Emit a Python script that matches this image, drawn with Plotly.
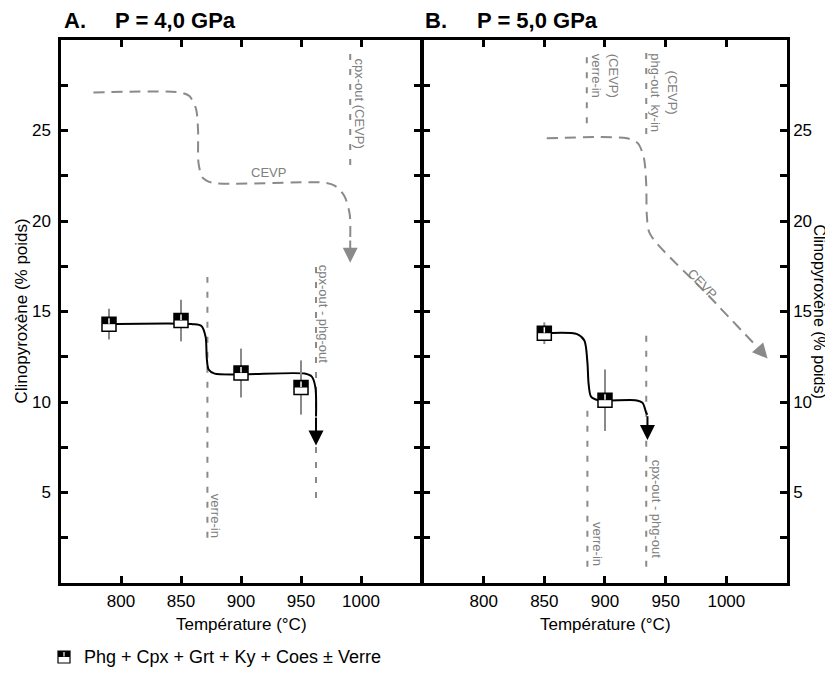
import plotly.graph_objects as go

# mesures (panneau A : 4,0 GPa ; panneau B : 5,0 GPa)
temp_a = [790, 850, 900, 950]
cpx_a = [14.3, 14.5, 11.6, 10.8]
err_a = [0.85, 1.15, 1.35, 1.5]
temp_b = [850, 900]
cpx_b = [13.8, 10.1]
err_b = [0.6, 1.7]

# tendances tracées à la main (noir) et trajets CEVP (gris)
trend_a_x = [790, 860, 867, 870.5, 871.5, 873, 878, 953, 959, 962, 962.5]
trend_a_y = [14.3, 14.3, 14.2, 13.6, 12.4, 11.8, 11.57, 11.57, 11.4, 10.8, 9.2]
trend_a_tip = [962.5, 7.6]
trend_b_x = [850, 877, 883, 885.5, 886.5, 888.5, 894.5, 925, 931, 934, 935]
trend_b_y = [13.8, 13.75, 13.4, 12.2, 11.0, 10.3, 10.1, 10.1, 9.95, 9.4, 9.3]
trend_b_tip = [935, 7.9]

cevp_a_x = [777, 849, 857, 862.5, 864.2, 864.6, 868, 876, 969, 978, 986, 990.5, 991]
cevp_a_y = [27.1, 27.1, 26.9, 26.2, 25.0, 23.2, 22.4, 22.12, 22.12, 21.95, 21.4, 20.4, 19.0]
cevp_a_tip = [991, 17.7]
cevp_b_x = [852, 918, 927, 932, 934, 934.5, 937, 985, 1026]
cevp_b_y = [24.57, 24.57, 24.3, 23.5, 22.0, 20.3, 19.3, 15.9, 13.0]
cevp_b_tip = [1034, 12.4]

# limites de phases (x, y bas, y haut)
bounds_a = [(872, 2.5, 16.9), (962.5, 4.7, 17.9), (991, 23.1, 29.4)]
bounds_b = [(885, 25.4, 29.4), (934, 24.8, 29.4), (885.5, 0.9, 9.8), (934, 0.9, 13.7)]

# étiquettes des limites (texte, x, y, angle, ancrage vertical)
labels_a = [("cpx-out (CEVP)", 999, 29.1, 90, "top"),
            ("cpx-out - phg-out", 968.7, 17.7, 90, "top"),
            ("verre-in", 879, 5.05, 90, "top"),
            ("CEVP", 922.5, 22.7, 0, "middle")]
labels_b = [("(CEVP)<br>verre-in", 900, 29.35, 90, "top"),
            ("(CEVP)<br>phg-out  ky-in", 948, 27.1, 90, "middle"),
            ("verre-in", 894, 3.5, 90, "top"),
            ("cpx-out - phg-out", 942, 6.9, 90, "top"),
            ("CEVP", 980, 16.56, 46, "middle")]

y_ticks = [2.5, 5, 7.5, 10, 12.5, 15, 17.5, 20, 22.5, 25, 27.5]
y_ticktext = ["", "5", "", "10", "", "15", "", "20", "", "25", ""]
x_ticks = [800, 850, 900, 950, 1000]

FONT = "Liberation Sans, Arial, sans-serif"
GRIS = "#8a8a8a"
GRIS_TXT = "#808080"

fig = go.Figure()

panels = [
    ("x", "y", temp_a, cpx_a, err_a, trend_a_x, trend_a_y, trend_a_tip,
     cevp_a_x, cevp_a_y, cevp_a_tip, bounds_a, labels_a),
    ("x2", "y2", temp_b, cpx_b, err_b, trend_b_x, trend_b_y, trend_b_tip,
     cevp_b_x, cevp_b_y, cevp_b_tip, bounds_b, labels_b),
]

for (xr, yr, tx, cy, er, trx, try_, trtip, cvx, cvy, cvtip, bounds, labels) in panels:
    for (bx, by0, by1) in bounds:
        fig.add_trace(go.Scatter(x=[bx, bx], y=[by0, by1], mode="lines", xaxis=xr, yaxis=yr,
                                 line=dict(color=GRIS, width=2, dash="6px,9px"),
                                 showlegend=False, hoverinfo="skip"))
    fig.add_trace(go.Scatter(x=cvx, y=cvy, mode="lines", xaxis=xr, yaxis=yr,
                             line=dict(color=GRIS, width=2, dash="11px,7px", shape="spline", smoothing=0.8),
                             showlegend=False, hoverinfo="skip"))
    fig.add_annotation(x=cvtip[0], y=cvtip[1], ax=cvx[-1], ay=cvy[-1], xref=xr, yref=yr,
                       axref=xr, ayref=yr, text="", showarrow=True, arrowhead=2,
                       arrowsize=1.5, arrowwidth=2, arrowcolor=GRIS)
    fig.add_trace(go.Scatter(x=trx, y=try_, mode="lines", xaxis=xr, yaxis=yr,
                             line=dict(color="black", width=2, shape="spline", smoothing=0.8),
                             showlegend=False, hoverinfo="skip"))
    fig.add_annotation(x=trtip[0], y=trtip[1], ax=trx[-1], ay=try_[-1], xref=xr, yref=yr,
                       axref=xr, ayref=yr, text="", showarrow=True, arrowhead=2,
                       arrowsize=1.5, arrowwidth=2, arrowcolor="black")
    fig.add_trace(go.Scatter(x=tx, y=cy, mode="markers", xaxis=xr, yaxis=yr,
                             error_y=dict(type="data", array=er, color=GRIS, thickness=2, width=0),
                             marker=dict(symbol="square", size=14, color="white",
                                         line=dict(color="black", width=1.5)),
                             showlegend=False))
    for t, c in zip(tx, cy):
        fig.add_shape(type="rect", xref=xr, yref=yr, xsizemode="pixel", ysizemode="pixel",
                      xanchor=t, yanchor=c, x0=-7, x1=7, y0=0, y1=7,
                      fillcolor="black", line_width=0, layer="above")
        fig.add_shape(type="line", xref=xr, yref=yr, xsizemode="pixel", ysizemode="pixel",
                      xanchor=t, yanchor=c, x0=0, x1=0, y0=0.5, y1=6,
                      line=dict(color="white", width=1.5), layer="above")
    for (txt, lx, ly, ang, yanc) in labels:
        fig.add_annotation(x=lx, y=ly, xref=xr, yref=yr, text=txt, showarrow=False,
                           textangle=ang, xanchor="center", yanchor=yanc, align="center",
                           font=dict(size=13, color=GRIS_TXT, family=FONT))

axis_common = dict(showline=True, linewidth=2.5, linecolor="black", mirror="ticks",
                   ticks="inside", ticklen=7, tickwidth=2.5, tickcolor="black",
                   showgrid=False, zeroline=False,
                   tickfont=dict(size=17, color="black", family=FONT))

# la page ajoute une marge de 8 px autour du graphique : on la compense
OFF = 8
fig.update_layout(
    width=833, height=679,
    margin=dict(l=61 - OFF, r=833 - (787 - OFF), t=40 - OFF, b=679 - (583 - OFF)),
    plot_bgcolor="white", paper_bgcolor="white",
    font=dict(family=FONT, color="black"),
    showlegend=False,
    xaxis=dict(domain=[0, 0.4959], range=[750, 1050], tickvals=x_ticks, anchor="y",
               ticklabelstandoff=1, **axis_common),
    xaxis2=dict(domain=[0.4986, 1], range=[750, 1050], tickvals=x_ticks, anchor="y2",
                ticklabelstandoff=1, **axis_common),
    yaxis=dict(range=[0, 30], tickvals=y_ticks, ticktext=y_ticktext, anchor="x",
               ticklabelstandoff=4, automargin=False, **axis_common),
    yaxis2=dict(range=[0, 30], tickvals=y_ticks, ticktext=y_ticktext, anchor="x2",
                side="right", ticklabelstandoff=0, automargin=False, **axis_common),
)

# titres de panneaux
for txt, px_x in [("A.", 62), ("P = 4,0 GPa", 113), ("B.", 423), ("P = 5,0 GPa", 475)]:
    fig.add_annotation(x=(px_x - 61) / 726, y=(583 - 20) / 543, xref="paper", yref="paper",
                       text="<b>" + txt + "</b>", showarrow=False, xanchor="left", yanchor="middle",
                       font=dict(size=22, family=FONT, color="black"))

# titres d'axes
for cx in [241, 605]:
    fig.add_annotation(x=(cx - 61) / 726, y=(583 - 624) / 543, xref="paper", yref="paper",
                       text="Température (°C)", showarrow=False, xanchor="center", yanchor="middle",
                       font=dict(size=17, family=FONT, color="black"))
fig.add_annotation(x=(21 - 61) / 726, y=0.5, xref="paper", yref="paper",
                   text="Clinopyroxène (% poids)", showarrow=False, textangle=-90,
                   xanchor="center", yanchor="middle", font=dict(size=17, family=FONT, color="black"))
fig.add_annotation(x=(819 - 61) / 726, y=0.5, xref="paper", yref="paper",
                   text="Clinopyroxène (% poids)", showarrow=False, textangle=90,
                   xanchor="center", yanchor="middle", font=dict(size=16, family=FONT, color="black"))

# légende
leg_x = (64 - 61) / 726
leg_y = (583 - 657) / 543
fig.add_shape(type="rect", xref="paper", yref="paper", xsizemode="pixel", ysizemode="pixel",
              xanchor=leg_x, yanchor=leg_y, x0=-6, x1=6, y0=-6, y1=6,
              fillcolor="white", line=dict(color="black", width=1.2))
fig.add_shape(type="rect", xref="paper", yref="paper", xsizemode="pixel", ysizemode="pixel",
              xanchor=leg_x, yanchor=leg_y, x0=-6, x1=6, y0=0, y1=6,
              fillcolor="black", line_width=0)
fig.add_shape(type="line", xref="paper", yref="paper", xsizemode="pixel", ysizemode="pixel",
              xanchor=leg_x, yanchor=leg_y, x0=0, x1=0, y0=0.5, y1=5,
              line=dict(color="white", width=1.2))
fig.add_annotation(x=(82 - 61) / 726, y=leg_y, xref="paper", yref="paper",
                   text="Phg + Cpx + Grt + Ky + Coes ± Verre", showarrow=False,
                   xanchor="left", yanchor="middle", font=dict(size=18, family=FONT, color="black"))

fig.write_html("out.html")
